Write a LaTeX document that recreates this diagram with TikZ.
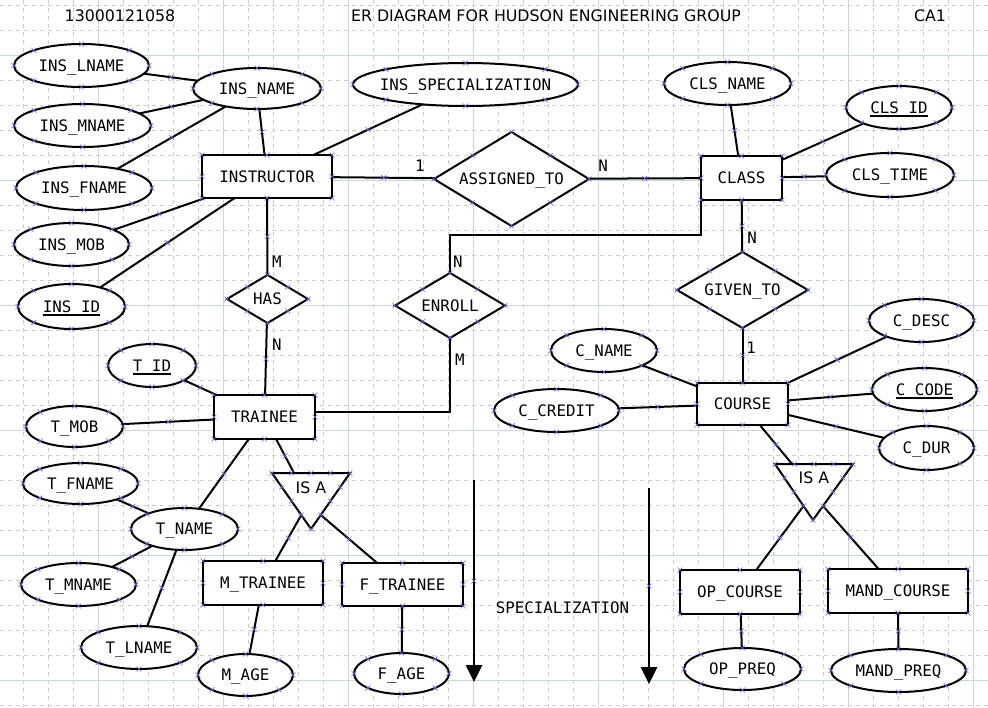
\documentclass[tikz,border=0pt]{standalone}
\usepackage{fontspec}
\setmainfont{DejaVu Sans}
\newfontfamily\monof{DejaVu Sans Mono}
\usetikzlibrary{shapes.geometric,shapes.misc,arrows.meta,calc}
\definecolor{minorgrid}{RGB}{205,205,205}
\definecolor{majorgrid}{RGB}{200,214,224}
\definecolor{cpcol}{RGB}{105,105,215}
\newcommand\lblfont{\monof\fontsize{15.8}{18}\selectfont}
\newcommand\sansfont{\fontsize{15.8}{18}\selectfont}
% key attribute: thick underline below the name
\newcommand\keyul[1]{\setbox0\hbox{#1}\rlap{\rule[-3.6pt]{\wd0}{1.8pt}}\box0}
\tikzset{
  capbox/.style={text height=11.5pt, text depth=0pt},
  ent/.style={draw, rectangle, line width=2pt, fill=white, inner sep=0pt, outer sep=0pt, font=\lblfont, capbox},
  attr/.style={draw, ellipse, line width=2pt, fill=white, inner sep=0pt, outer sep=0pt,
               label={[font=\lblfont, capbox, inner sep=0pt]center:#1}},
  rel/.style={draw, diamond, line width=2pt, fill=white, inner sep=0pt, outer sep=0pt,
              label={[font=\lblfont, capbox, inner sep=0pt]center:#1}},
  relline/.style={line width=2pt},
  card/.style={font=\lblfont, inner sep=0pt, capbox},
  cp/.style={cross out, draw=cpcol, line width=0.6pt, minimum size=5pt, inner sep=0pt, outer sep=0pt},
  specarrow/.style={line width=2.6pt, -{Triangle[length=17pt,width=16pt]}},
  isatri/.style={line width=2pt, fill=white, line join=miter}
}
\begin{document}
\begin{tikzpicture}[x=1pt, y=-1pt]
\useasboundingbox (0,0) rectangle (988,707);
\fill[white] (0,0) rectangle (988,707);
% background grid
\foreach \gx in {23,48,...,998} \draw[minorgrid, line width=0.7pt, dash pattern=on 4pt off 4pt] (\gx,0) -- (\gx,707);
\foreach \gy in {5,30,...,705} \draw[minorgrid, line width=0.7pt, dash pattern=on 4pt off 4pt] (0,\gy) -- (988,\gy);
\foreach \gx in {98,223,...,973} \draw[majorgrid, line width=0.8pt] (\gx,0) -- (\gx,707);
\foreach \gy in {55,180,...,680} \draw[majorgrid, line width=0.8pt] (0,\gy) -- (988,\gy);

% header
\node[font=\sansfont, capbox] (rollno) at (120,16) {13000121058};
\node[font=\sansfont, capbox] (title) at (546,16) {ER DIAGRAM FOR HUDSON ENGINEERING GROUP};
\node[font=\sansfont, capbox] (ca) at (930,16) {CA1};

% entities
\node[ent, minimum width=130pt, minimum height=43pt] (instructor) at (267,176.5) {INSTRUCTOR};
\node[ent, minimum width=81pt, minimum height=44pt] (class) at (741.5,178) {CLASS};
\node[ent, minimum width=101pt, minimum height=44pt] (trainee) at (264.5,417) {TRAINEE};
\node[ent, minimum width=120pt, minimum height=44pt] (mtrainee) at (263,583) {M\_TRAINEE};
\node[ent, minimum width=121pt, minimum height=43pt] (ftrainee) at (402.5,584.5) {F\_TRAINEE};
\node[ent, minimum width=91pt, minimum height=42pt] (course) at (742.5,404) {COURSE};
\node[ent, minimum width=120pt, minimum height=44pt] (opcourse) at (740,592) {OP\_COURSE};
\node[ent, minimum width=140pt, minimum height=44pt] (mandcourse) at (898,591) {MAND\_COURSE};

% relationships
\node[rel={ASSIGNED\_TO}, minimum width=155pt, minimum height=94pt] (assigned) at (511.5,179) {};
\node[rel={HAS}, minimum width=81pt, minimum height=48pt] (has) at (267.5,299) {};
\node[rel={ENROLL}, minimum width=110pt, minimum height=65pt] (enroll) at (450,305.5) {};
\node[rel={GIVEN\_TO}, minimum width=131pt, minimum height=76pt] (givento) at (742.5,290) {};

% attributes
\node[attr={INS\_LNAME}, minimum width=135pt, minimum height=43pt] (inslname) at (81.5,65.5) {};
\node[attr={INS\_NAME}, minimum width=128pt, minimum height=41pt] (insname) at (257,88.5) {};
\node[attr={INS\_MNAME}, minimum width=137pt, minimum height=43pt] (insmname) at (82.5,125.5) {};
\node[attr={INS\_FNAME}, minimum width=136pt, minimum height=44pt] (insfname) at (84,188) {};
\node[attr={INS\_MOB}, minimum width=115pt, minimum height=43pt] (insmob) at (71.5,244.5) {};
\node[attr={\keyul{INS\_ID}}, minimum width=107pt, minimum height=45pt] (insid) at (71.5,306.5) {};
\node[attr={INS\_SPECIALIZATION}, minimum width=225pt, minimum height=43pt] (insspec) at (465.5,84.5) {};
\node[attr={CLS\_NAME}, minimum width=127pt, minimum height=43pt] (clsname) at (727.5,83.5) {};
\node[attr={\keyul{CLS\_ID}}, minimum width=106pt, minimum height=43pt] (clsid) at (899,107.5) {};
\node[attr={CLS\_TIME}, minimum width=128pt, minimum height=44pt] (clstime) at (890,175) {};
\node[attr={\keyul{T\_ID}}, minimum width=88pt, minimum height=43pt] (tid) at (152,365.5) {};
\node[attr={T\_MOB}, minimum width=97pt, minimum height=41pt] (tmob) at (74.5,426.5) {};
\node[attr={T\_FNAME}, minimum width=115pt, minimum height=41pt] (tfname) at (80.5,483.5) {};
\node[attr={T\_NAME}, minimum width=107pt, minimum height=42pt] (tname) at (184.5,529) {};
\node[attr={T\_MNAME}, minimum width=115pt, minimum height=43pt] (tmname) at (78.5,584.5) {};
\node[attr={T\_LNAME}, minimum width=116pt, minimum height=43pt] (tlname) at (139,647.5) {};
\node[attr={M\_AGE}, minimum width=95pt, minimum height=42pt] (mage) at (245.5,675) {};
\node[attr={F\_AGE}, minimum width=95pt, minimum height=41pt] (fage) at (401.5,673.5) {};
\node[attr={C\_NAME}, minimum width=106pt, minimum height=43pt] (cname) at (604,350.5) {};
\node[attr={C\_CREDIT}, minimum width=125pt, minimum height=43pt] (ccredit) at (556.5,410.5) {};
\node[attr={C\_DESC}, minimum width=105pt, minimum height=43pt] (cdesc) at (921.5,320.5) {};
\node[attr={\keyul{C\_CODE}}, minimum width=105pt, minimum height=43pt] (ccode) at (924.5,389.5) {};
\node[attr={C\_DUR}, minimum width=95pt, minimum height=44pt] (cdur) at (926.5,448) {};
\node[attr={OP\_PREQ}, minimum width=117pt, minimum height=42pt] (oppreq) at (742.5,669) {};
\node[attr={MAND\_PREQ}, minimum width=135pt, minimum height=43pt] (mandpreq) at (898.5,670.5) {};

% IS A triangles
\coordinate (tLa) at (272,473); \coordinate (tLb) at (350,473); \coordinate (tLc) at (311,529);
\coordinate (tRa) at (775,464); \coordinate (tRb) at (853,464); \coordinate (tRc) at (813,520);
\draw[isatri] (tLa) -- (tLb) -- (tLc) -- cycle;
\draw[isatri] (tRa) -- (tRb) -- (tRc) -- cycle;
\node[font=\sansfont, capbox] (isaLtxt) at (311,488) {IS A};
\node[font=\sansfont, capbox] (isaRtxt) at (814,478) {IS A};
\coordinate (isaLtop) at (294,473);
\coordinate (isaLleft) at ($(tLa)!0.75!(tLc)$);
\coordinate (isaLright) at ($(tLb)!0.75!(tLc)$);
\coordinate (isaRtop) at (792,464);
\coordinate (isaRleft) at ($(tRa)!0.75!(tRc)$);
\coordinate (isaRright) at ($(tRb)!0.75!(tRc)$);

% attribute links
\draw[relline] (inslname) -- (insname) node[cp, midway] {};
\draw[relline] (insmname) -- (insname) node[cp, midway] {};
\draw[relline] (insfname) -- (insname) node[cp, midway] {};
\draw[relline] (insname) -- (instructor) node[cp, midway] {};
\draw[relline] (instructor) -- (insmob) node[cp, midway] {};
\draw[relline] (instructor) -- (insid) node[cp, midway] {};
\draw[relline] (insspec) -- (instructor) node[cp, midway] {};
\draw[relline] (clsname) -- (class) node[cp, midway] {};
\draw[relline] (clsid) -- (class) node[cp, midway] {};
\draw[relline] (class) -- (clstime) node[cp, midway] {};
\draw[relline] (tid) -- (trainee) node[cp, midway] {};
\draw[relline] (tmob) -- (trainee) node[cp, midway] {};
\draw[relline] (trainee) -- (tname) node[cp, midway] {};
\draw[relline] (tfname) -- (tname) node[cp, midway] {};
\draw[relline] (tname) -- (tmname) node[cp, midway] {};
\draw[relline] (tname) -- (tlname) node[cp, midway] {};
\draw[relline] (mtrainee) -- (mage) node[cp, midway] {};
\draw[relline] (ftrainee) -- (fage) node[cp, midway] {};
\draw[relline] (cname) -- (course) node[cp, midway] {};
\draw[relline] (ccredit) -- (course) node[cp, midway] {};
\draw[relline] (course) -- (cdesc) node[cp, midway] {};
\draw[relline] (course) -- (ccode) node[cp, midway] {};
\draw[relline] (course) -- (cdur) node[cp, midway] {};
\draw[relline] (opcourse) -- (oppreq) node[cp, midway] {};
\draw[relline] (mandcourse) -- (mandpreq) node[cp, midway] {};

% relationship links
\draw[relline] (instructor) -- (assigned) node[cp, midway] {};
\draw[relline] (assigned) -- (class) node[cp, midway] {};
\draw[relline] (instructor) -- (has) node[cp, midway] {};
\draw[relline] (has) -- (trainee) node[cp, midway] {};
\draw[relline] (class) -- (givento) node[cp, midway] {};
\draw[relline] (givento) -- (course) node[cp, midway] {};
\draw[relline] (class.south west) -- ++(0,35) -| (enroll.north);
\draw[relline] (enroll.south) |- ([yshift=5pt]trainee.east);

% specialization links
\draw[relline] (trainee) -- (isaLtop) node[cp, midway] {};
\draw[relline] (isaLleft) -- (mtrainee) node[cp, midway] {};
\draw[relline] (isaLright) -- (ftrainee) node[cp, midway] {};
\draw[relline] (course) -- (isaRtop) node[cp, midway] {};
\draw[relline] (isaRleft) -- (opcourse) node[cp, midway] {};
\draw[relline] (isaRright) -- (mandcourse) node[cp, midway] {};

% cardinalities
\node[card] (cAi) at (420,166) {1};
\node[card] (cAn) at (603,166) {N};
\node[card] (cHm) at (277,262) {M};
\node[card] (cHn) at (277,345) {N};
\node[card] (cEn) at (458,262) {N};
\node[card] (cEm) at (460,360) {M};
\node[card] (cGn) at (752,238) {N};
\node[card] (cGi) at (751,348) {1};

% specialization arrows
\coordinate (sa1) at (474,480); \coordinate (sa2) at (474,682);
\coordinate (sb1) at (649,488); \coordinate (sb2) at (649,684);
\draw[specarrow] (sa1) -- (sa2) node[cp, midway] {};
\draw[specarrow] (sb1) -- (sb2) node[cp, midway] {};
\node[font=\lblfont, capbox] (spec) at (562.5,608) {SPECIALIZATION};

% connection points
\foreach \n in {instructor,class,trainee,mtrainee,ftrainee,course,opcourse,mandcourse,
  assigned,has,enroll,givento,
  inslname,insname,insmname,insfname,insmob,insid,insspec,clsname,clsid,clstime,
  tid,tmob,tfname,tname,tmname,tlname,mage,fage,cname,ccredit,cdesc,ccode,cdur,oppreq,mandpreq}
  \foreach \a in {north,north east,east,south east,south,south west,west,north west}
    \node[cp] at (\n.\a) {};
\foreach \ta/\tb/\tc in {tLa/tLb/tLc,tRa/tRb/tRc} {
  \foreach \t in {0,0.25,0.5,0.75,1} \node[cp] at ($(\ta)!\t!(\tb)$) {};
  \foreach \t in {0.25,0.5,0.75} {
    \node[cp] at ($(\ta)!\t!(\tc)$) {};
    \node[cp] at ($(\tb)!\t!(\tc)$) {};
  }
  \node[cp] at (\tc) {};
}
\end{tikzpicture}
\end{document}
